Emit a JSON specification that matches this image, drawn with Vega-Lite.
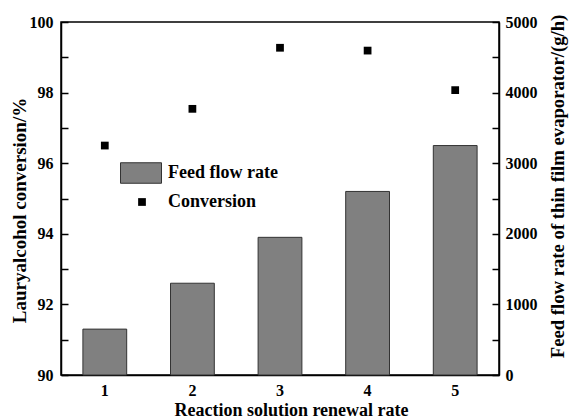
{
  "$schema": "https://vega.github.io/schema/vega-lite/v6.json",
  "width": 438,
  "height": 353,
  "autosize": {"type": "none"},
  "padding": {"left": 61, "top": 22, "right": 71, "bottom": 45},
  "background": "white",
  "config": {
    "view": {"stroke": "black", "strokeWidth": 1.5},
    "font": "Liberation Serif",
    "axis": {
      "labelFont": "Liberation Serif",
      "labelFontWeight": "bold",
      "labelFontSize": 16,
      "labelColor": "black",
      "titleFont": "Liberation Serif",
      "titleFontWeight": "bold",
      "titleFontSize": 18,
      "titleColor": "black",
      "domainColor": "black",
      "domainWidth": 1.5,
      "tickColor": "black",
      "tickWidth": 1.5,
      "grid": false,
      "zindex": 1
    },
    "legend": {
      "labelFont": "Liberation Serif",
      "labelFontWeight": "bold",
      "labelFontSize": 18,
      "labelColor": "black",
      "padding": 0,
      "offset": 0
    }
  },
  "data": {
    "values": [
      {"rate": "1", "conversion": 96.5, "flow": 650},
      {"rate": "2", "conversion": 97.54, "flow": 1300},
      {"rate": "3", "conversion": 99.27, "flow": 1950},
      {"rate": "4", "conversion": 99.19, "flow": 2600},
      {"rate": "5", "conversion": 98.07, "flow": 3250}
    ]
  },
  "encoding": {
    "x": {
      "field": "rate",
      "type": "ordinal",
      "scale": {"paddingInner": 0.5, "paddingOuter": 0.25},
      "axis": {
        "title": "Reaction solution renewal rate",
        "titleX": 230,
        "labelAngle": 0,
        "ticks": false,
        "labelPadding": 7,
        "titlePadding": 3
      }
    }
  },
  "layer": [
    {
      "mark": {"type": "bar", "stroke": "#333333", "strokeWidth": 1},
      "encoding": {
        "y": {
          "field": "flow",
          "type": "quantitative",
          "scale": {"domain": [0, 5000], "nice": false},
          "axis": {
            "orient": "right",
            "title": "Feed flow rate of thin film evaporator/(g/h)",
            "titleAngle": -90,
            "titleFontSize": 18.7,
            "titleY": 164,
            "values": [0, 500, 1000, 1500, 2000, 2500, 3000, 3500, 4000, 4500, 5000],
            "labelExpr": "datum.value % 1000 == 0 ? datum.value : ''",
            "tickSize": -7,
            "labelPadding": 13,
            "titlePadding": 30
          }
        },
        "fill": {
          "datum": "Feed flow rate",
          "scale": {"range": ["#808080"]},
          "legend": {
            "orient": "none",
            "legendX": 59,
            "legendY": 130,
            "title": null,
            "symbolType": "M-1,-0.5H1V0.5H-1Z",
            "symbolSize": 1681,
            "symbolStrokeColor": "#333333",
            "symbolStrokeWidth": 1,
            "labelOffset": 6
          }
        }
      }
    },
    {
      "mark": {"type": "point", "filled": true, "color": "black", "size": 60, "opacity": 1},
      "encoding": {
        "y": {
          "field": "conversion",
          "type": "quantitative",
          "scale": {"domain": [90, 100], "nice": false},
          "axis": {
            "orient": "left",
            "title": "Lauryalcohol conversion/%",
            "titleFontSize": 19,
            "titleY": 188,
            "values": [90, 91, 92, 93, 94, 95, 96, 97, 98, 99, 100],
            "labelExpr": "datum.value % 2 == 0 ? datum.value : ''",
            "tickSize": -7,
            "labelPadding": 15,
            "titlePadding": 0
          }
        },
        "shape": {
          "datum": "Conversion",
          "scale": {"range": ["square"]},
          "legend": {
            "orient": "none",
            "legendX": 72,
            "legendY": 171,
            "title": null,
            "symbolSize": 60,
            "symbolFillColor": "black",
            "symbolStrokeColor": "black",
            "symbolStrokeWidth": 0,
            "labelOffset": 17
          }
        }
      }
    }
  ],
  "resolve": {"scale": {"y": "independent"}}
}
